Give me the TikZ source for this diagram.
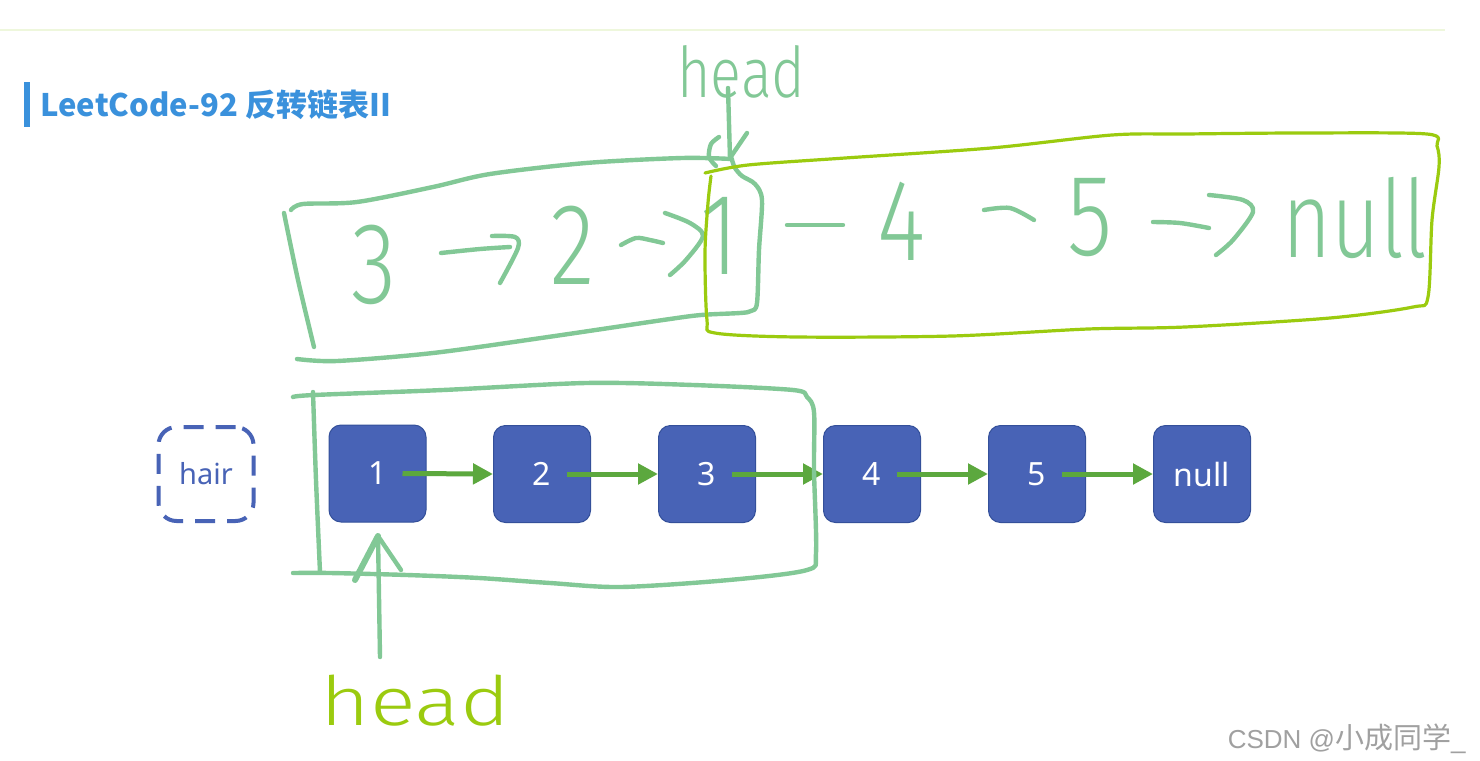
\documentclass[tikz,border=0pt]{standalone}
\usepackage{fontspec}
\setmainfont{Noto Sans}
\newfontfamily\cjkfont{Noto Sans CJK SC}
\newfontfamily\wmfont{Liberation Sans}
\newfontfamily\handfont{Fira Sans Light}
\usetikzlibrary{arrows.meta}
\definecolor{nodeblue}{HTML}{4863B6}
\definecolor{nodeborder}{HTML}{34509A}
\definecolor{arrgreen}{HTML}{5CA83E}
\definecolor{titleblue}{HTML}{3A91DC}
\definecolor{lgreen}{HTML}{82C896}
\definecolor{ygreen}{HTML}{9BCB0F}
\definecolor{wmgray}{HTML}{A0A0A0}
\definecolor{faintline}{HTML}{EEF7DC}
\newcommand\hsq[2]{\scalebox{#1}[1]{#2}}
\begin{document}
\begin{tikzpicture}[x=0.5pt,y=-0.5pt,
  listnode/.style={draw=nodeborder, line width=0.5pt, fill=nodeblue, rounded corners=6pt,
    minimum width=48.5pt, minimum height=48.5pt, inner sep=0pt, text=white,
    font=\fontsize{16}{16}\selectfont},
  hairnode/.style={draw=nodeblue, line width=2pt, dash pattern=on 10pt off 6pt, rounded corners=9pt,
    minimum width=47.5pt, minimum height=47pt, inner sep=0pt, text=nodeblue,
    font=\fontsize{14.5}{14.5}\selectfont},
  link/.style={draw=arrgreen, line width=2.5pt, -{Triangle[length=10pt,width=10pt]}},
  lhand/.style={draw=lgreen, line width=2.2pt, line cap=round, line join=round},
  yhand/.style={draw=ygreen, line width=1.6pt, line cap=round, line join=round},
  htext/.style={text=lgreen, inner sep=0pt, font=\handfont\fontsize{58}{58}\selectfont},
  ytext/.style={text=ygreen, inner sep=0pt, font=\handfont\fontsize{34}{34}\selectfont}
]
\useasboundingbox[fill=white] (0,0) rectangle (1480,761);
\draw[faintline, line width=0.6pt] (0,30) -- (1445,30);

% title
\fill[titleblue] (24,82) rectangle (30,127);
\node[anchor=base west, inner sep=0pt, text=titleblue, font=\cjkfont\bfseries\fontsize{15.5}{15.5}\selectfont]
  (title) at (40,116) {LeetCode-92 反转链表II};

% list nodes
\node[hairnode] (hair) at (206,474) {hair};
\node[listnode] (n1) at (377.5,473.5) {1};
\node[listnode] (n2) at (542,474) {2};
\node[listnode] (n3) at (707,474) {3};
\node[listnode] (n4) at (872,474) {4};
\node[listnode] (n5) at (1037,474) {5};
\node[listnode] (nnull) at (1202,474) {null};
\draw[link] ([xshift=12.5pt]n1.center) -- (n2.west);
\draw[link] ([xshift=12.5pt]n2.center) -- (n3.west);
\draw[link] ([xshift=12.5pt]n3.center) -- (n4.west);
\draw[link] ([xshift=12.5pt]n4.center) -- (n5.west);
\draw[link] ([xshift=12.5pt]n5.center) -- (nnull.west);

% handwritten top row text
\node[htext] (h3) at (374,265) {\hsq{0.8}{3}};
\node[htext] (h2) at (573,245) {\hsq{0.8}{2}};
\node[htext] (h1) at (720,236) {\hsq{0.8}{1}};
\node[htext] (h4) at (902,221) {\hsq{0.8}{4}};
\node[htext] (h5) at (1090,218) {\hsq{0.8}{5}};
\node[htext, font=\handfont\fontsize{54}{54}\selectfont] (hnull) at (1355,218) {\hsq{0.78}{null}};
% handwritten arrows and dashes
\draw[lhand] plot[smooth] coordinates {(441,253) (480,249) (510,247)};
\draw[lhand] plot[smooth] coordinates {(492,236) (515,237) (518,248) (500,283)};
\draw[lhand] plot[smooth] coordinates {(621,245) (636,238) (650,240) (663,243)};
\draw[lhand] plot[smooth] coordinates {(665,213) (690,223) (703,236) (686,260) (670,275)};
\draw[lhand] (787,225) -- (843,225);
\draw[lhand] plot[smooth] coordinates {(984,210) (1010,208) (1034,220)};
\draw[lhand] plot[smooth] coordinates {(1153,222) (1180,223) (1209,228)};
\draw[lhand] plot[smooth] coordinates {(1209,195) (1243,200) (1253,212) (1233,240) (1216,255)};

% left handwritten box (3->2->1)
\draw[lhand] plot[smooth] coordinates {(284,213) (298,280) (314,347)};
\draw[lhand] plot[smooth] coordinates {(291,210) (303,204) (357,202) (433,187) (490,174) (586,163) (682,158) (732,159)};
\draw[lhand] plot[smooth] coordinates {(297,359) (337,361) (433,353) (548,337) (663,320) (701,315) (740,313) (751,311) (757,303) (759,250) (762,200) (755,184) (742,176) (735,168) (732,160)};

% top "head" with arrow
\node[anchor=base west, text=lgreen, inner sep=0pt, font=\handfont\fontsize{35}{35}\selectfont]
  (tophead) at (677,97) {\hsq{0.82}{head}};
\coordinate (toptip) at (730,158);
\draw[lhand] (728,88) -- (toptip);
\draw[lhand] (747,133) -- (toptip);
\draw[lhand] plot[smooth] coordinates {(719,137) (711,144) (709,157) (716,166)};

% yellow-green box (1-4-5-null)
\draw[yhand] plot[smooth] coordinates {(705,173) (748,165) (845,158) (991,148) (1112,135) (1185,134) (1300,133) (1427,134) (1437,146) (1439,167) (1432,220) (1428,297) (1413,307) (1330,318) (1185,327) (1088,329) (952,336) (797,337) (715,333) (707,320) (705,253) (708,203) (711,176)};

% bottom handwritten box around 1,2,3
\draw[lhand] plot[smooth] coordinates {(313,392) (316,480) (320,572)};
\draw[lhand] plot[smooth] coordinates {(293,397) (314,395) (443,390) (586,383) (693,385) (793,390) (807,397) (814,412) (814,470) (816,553) (807,570) (729,580) (621,587) (550,583) (479,578) (407,575) (330,573) (293,573)};

% bottom "head" with arrow
\node[anchor=base west, inner sep=0pt, text=ygreen, font=\handfont\fontsize{34}{34}\selectfont]
  (bothead) at (320,725) {\hsq{1.25}{head}};
\coordinate (bottip) at (378,536);
\draw[lhand] (380,657) -- (bottip);
\draw[lhand, line width=3pt] (355,580) -- (bottip);
\draw[lhand] (401,570) -- (bottip);

% watermark
\node[anchor=base east, inner sep=0pt, text=wmgray] (wm) at (1466,748)
  {\wmfont\fontsize{13}{13}\selectfont CSDN @\cjkfont\fontsize{14.5}{14.5}\selectfont 小成同学\wmfont\fontsize{13}{13}\selectfont\_};
\end{tikzpicture}
\end{document}
